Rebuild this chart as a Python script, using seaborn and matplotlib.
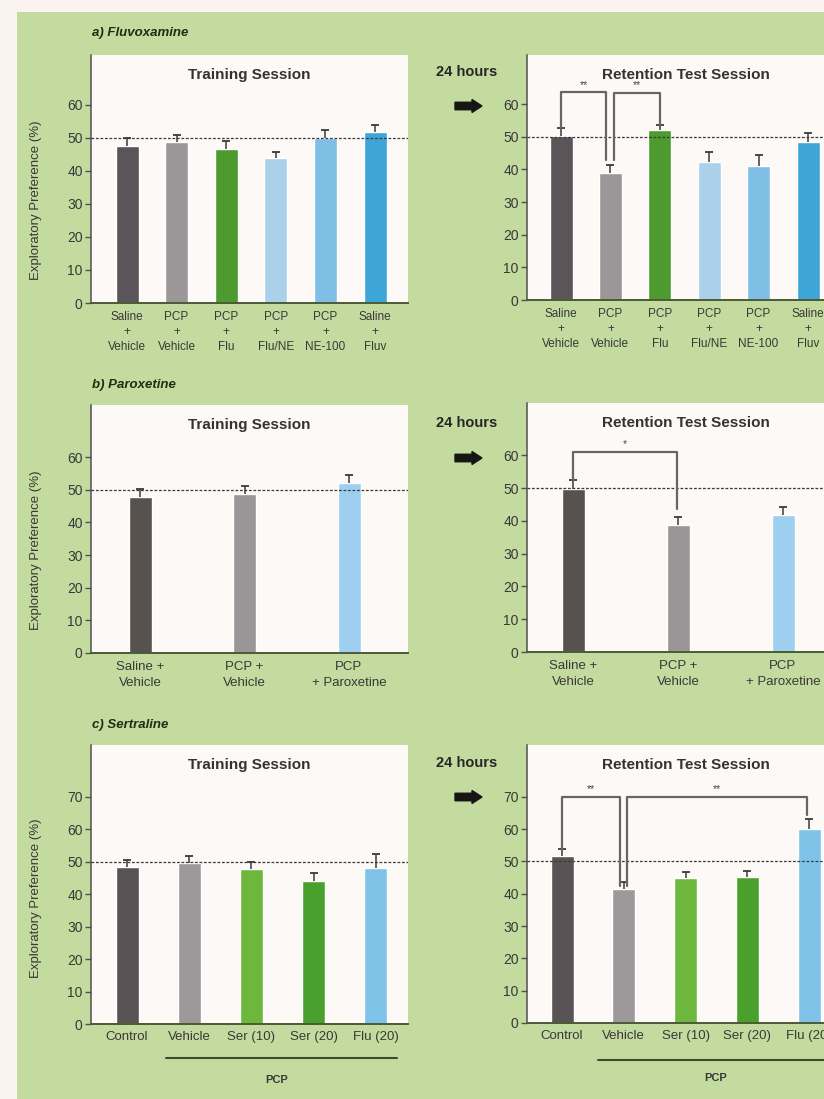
import numpy as np
import pandas as pd
import matplotlib
matplotlib.use("Agg")
import matplotlib.pyplot as plt
import seaborn as sns
from matplotlib.patches import Rectangle, FancyArrow

sns.set_theme(style="ticks")
plt.rcParams['font.family'] = ['Liberation Sans', 'DejaVu Sans']

# ---------------- data ----------------
flu_labels = ["Saline\n+\nVehicle", "PCP\n+\nVehicle", "PCP\n+\nFlu",
              "PCP\n+\nFlu/NE", "PCP\n+\nNE-100", "Saline\n+\nFluv"]
flu_train = [47.5, 48.7, 46.7, 43.7, 50.0, 51.8]
flu_train_sem = [2.5, 2.0, 2.3, 2.0, 2.3, 2.0]
flu_test = [50.1, 38.9, 51.9, 42.2, 41.1, 48.4]
flu_test_sem = [2.6, 2.3, 1.6, 3.0, 3.4, 2.7]
flu_colors = ['#5b5458', '#9b9698', '#4d9a2f', '#aad0ea', '#7fbfe5', '#3ea5d8']

par_labels = ["Saline +\nVehicle", "PCP +\nVehicle", "PCP\n+ Paroxetine"]
par_train = [47.8, 48.8, 52.0]
par_train_sem = [2.5, 2.3, 2.4]
par_test = [49.8, 38.7, 41.7]
par_test_sem = [2.6, 2.5, 2.6]
par_colors = ['#58524f', '#9a9596', '#9fcfee']

ser_labels = ["Control", "Vehicle", "Ser (10)", "Ser (20)", "Flu (20)"]
ser_train = [48.5, 49.7, 47.9, 44.0, 48.2]
ser_train_sem = [2.2, 2.0, 2.1, 2.4, 4.2]
ser_test = [51.7, 41.6, 44.9, 45.2, 60.0]
ser_test_sem = [2.1, 1.9, 1.7, 1.9, 3.1]
ser_colors = ['#5a5356', '#9d999a', '#6db83c', '#4aa02c', '#80c3e8']

# ---------------- figure ----------------
W, H = 824, 1099
fig = plt.figure(figsize=(W / 100, H / 100), dpi=100)
fig.patch.set_facecolor('#c4db9f')
fig.patches.append(Rectangle((0, 0), 17 / W, 1, transform=fig.transFigure,
                             facecolor='#fbf3f0', edgecolor='none', zorder=-5))
fig.patches.append(Rectangle((0, 1 - 12 / H), 1, 12 / H, transform=fig.transFigure,
                             facecolor='#fbf3f0', edgecolor='none', zorder=-5))

TXT = '#383838'
AXW = 317


def panel(x0, ytop, ybase, first_off, spacing, labels, vals, sems, colors,
          ymax, yticks, title, xfs=9.0, lsp=1.05, xpad=5):
    ax = fig.add_axes([x0 / W, 1 - ybase / H, AXW / W, (ybase - ytop) / H])
    ax.set_facecolor('#fcf9f6')
    n = len(vals)
    df = pd.DataFrame({"group": labels, "value": vals})
    width = 23 / spacing
    sns.barplot(data=df, x="group", y="value", hue="group", palette=colors,
                width=width, saturation=1, legend=False, errorbar=None, ax=ax,
                zorder=2)
    xs = np.arange(n)
    top = np.array(vals) + np.array(sems)
    cap = 4 / spacing
    ax.vlines(xs, vals, top, color='#3a3a3a', lw=1.1, zorder=4)
    ax.hlines(top, xs - cap, xs + cap, color='#3a3a3a', lw=1.3, zorder=4)
    ax.axhline(50, color='#3a3a3a', lw=0.9, ls=(0, (2.2, 1.4)), zorder=3)
    left = -first_off / spacing
    ax.set_xlim(left, left + AXW / spacing)
    ax.set_ylim(0, ymax)
    ax.set_yticks(yticks)
    ax.set_xlabel("")
    ax.set_ylabel("")
    sns.despine(ax=ax)
    ax.spines['left'].set_color('#505050')
    ax.spines['bottom'].set_color('#4b5a35')
    ax.spines['left'].set_linewidth(1.1)
    ax.spines['bottom'].set_linewidth(1.4)
    ax.tick_params(axis='y', length=4, width=1, color='#505050',
                   labelsize=10, pad=2, labelcolor=TXT)
    ax.tick_params(axis='x', length=0, labelsize=xfs, pad=xpad, labelcolor=TXT)
    for t in ax.get_xticklabels():
        t.set_linespacing(lsp)
    ax.text(0.5, 1 - 20 / (ybase - ytop), title, transform=ax.transAxes,
            ha='center', va='center', fontsize=11, fontweight='bold', color='#333333')
    return ax


def bracket(ax, x1, x2, y, y1, y2, mark, ty):
    ax.plot([x1, x1, x2, x2], [y1, y, y, y2], color='#666666', lw=1.6,
            clip_on=False, zorder=5)
    ax.text((x1 + x2) / 2, ty, mark, ha='center', va='center', fontsize=7.5,
            color='#444444', zorder=5)


def ylabel(ax, ybase, ytop, ycenter):
    ax.set_ylabel("Exploratory Preference (%)", fontsize=9.5, color=TXT)
    ax.yaxis.set_label_coords((42 - 91) / AXW, (ybase - ycenter) / (ybase - ytop))


def header(ypx, text):
    fig.text(92 / W, 1 - ypx / H, text, ha='left', va='center', fontsize=9.5,
             fontweight='bold', fontstyle='italic', color='#1f2d12')


def hours(ytext, yarrow):
    fig.text(467 / W, 1 - ytext / H, "24 hours", ha='center', va='center',
             fontsize=10.5, fontweight='bold', color='#262626')
    fig.patches.append(FancyArrow(455 / 100, (H - yarrow) / 100, 17 / 100, 0,
                                  width=0.075, head_width=0.13, head_length=0.10,
                                  length_includes_head=False,
                                  transform=fig.dpi_scale_trans,
                                  facecolor='#151515', edgecolor='#151515'))


# a) Fluvoxamine
header(33, "a) Fluvoxamine")
ax = panel(91, 55, 303, 36, 49.6, flu_labels, flu_train, flu_train_sem,
           flu_colors, 75, range(0, 61, 10), "Training Session",
           xfs=8.5, lsp=1.3, xpad=6)
ylabel(ax, 303, 55, 200)
ax = panel(527, 55, 300, 34, 49.4, flu_labels, flu_test, flu_test_sem,
           flu_colors, 75, range(0, 61, 10), "Retention Test Session",
           xfs=8.5, lsp=1.3, xpad=6)
bracket(ax, 0, 0.92, 63.6, 52.6, 43.0, "**", 65.8)
bracket(ax, 1.08, 2, 63.4, 43.0, 53.7, "**", 65.8)
hours(72, 106)

# b) Paroxetine
header(385, "b) Paroxetine")
ax = panel(91, 405, 653, 49, 104.5, par_labels, par_train, par_train_sem,
           par_colors, 76, range(0, 61, 10), "Training Session",
           xfs=9.5, lsp=1.45, xpad=6)
ylabel(ax, 653, 405, 550)
ax = panel(527, 403, 652, 46, 105, par_labels, par_test, par_test_sem,
           par_colors, 76, range(0, 61, 10), "Retention Test Session",
           xfs=9.5, lsp=1.45, xpad=6)
bracket(ax, 0, 0.99, 61.0, 52.6, 43.7, "*", 63.4)
hours(423, 458)

# c) Sertraline
header(725, "c) Sertraline")
ax = panel(91, 745, 1024, 36, 62.2, ser_labels, ser_train, ser_train_sem,
           ser_colors, 86, range(0, 71, 10), "Training Session", xfs=9.5)
ylabel(ax, 1024, 745, 898)
ax.plot([0.63, 4.34], [-34 / 279] * 2, transform=ax.get_xaxis_transform(),
        color='#3f4a30', lw=1.5, clip_on=False)
ax.text(2.4, -56 / 279, "PCP", transform=ax.get_xaxis_transform(),
        ha='center', va='center', fontsize=8, fontweight='bold', color=TXT)
ax = panel(527, 745, 1023, 35, 61.8, ser_labels, ser_test, ser_test_sem,
           ser_colors, 86, range(0, 71, 10), "Retention Test Session", xfs=9.5)
bracket(ax, 0, 0.935, 70.0, 53.6, 42.4, "**", 72.3)
bracket(ax, 1.05, 3.97, 70.0, 42.4, 64.2, "**", 72.3)
ax.plot([0.58, 5.2], [-37 / 278] * 2, transform=ax.get_xaxis_transform(),
        color='#3f4a30', lw=1.5, clip_on=False)
ax.text(2.48, -55 / 278, "PCP", transform=ax.get_xaxis_transform(),
        ha='center', va='center', fontsize=8, fontweight='bold', color=TXT)
hours(763, 797)

fig.savefig("out.png", dpi=100, facecolor=fig.get_facecolor())
